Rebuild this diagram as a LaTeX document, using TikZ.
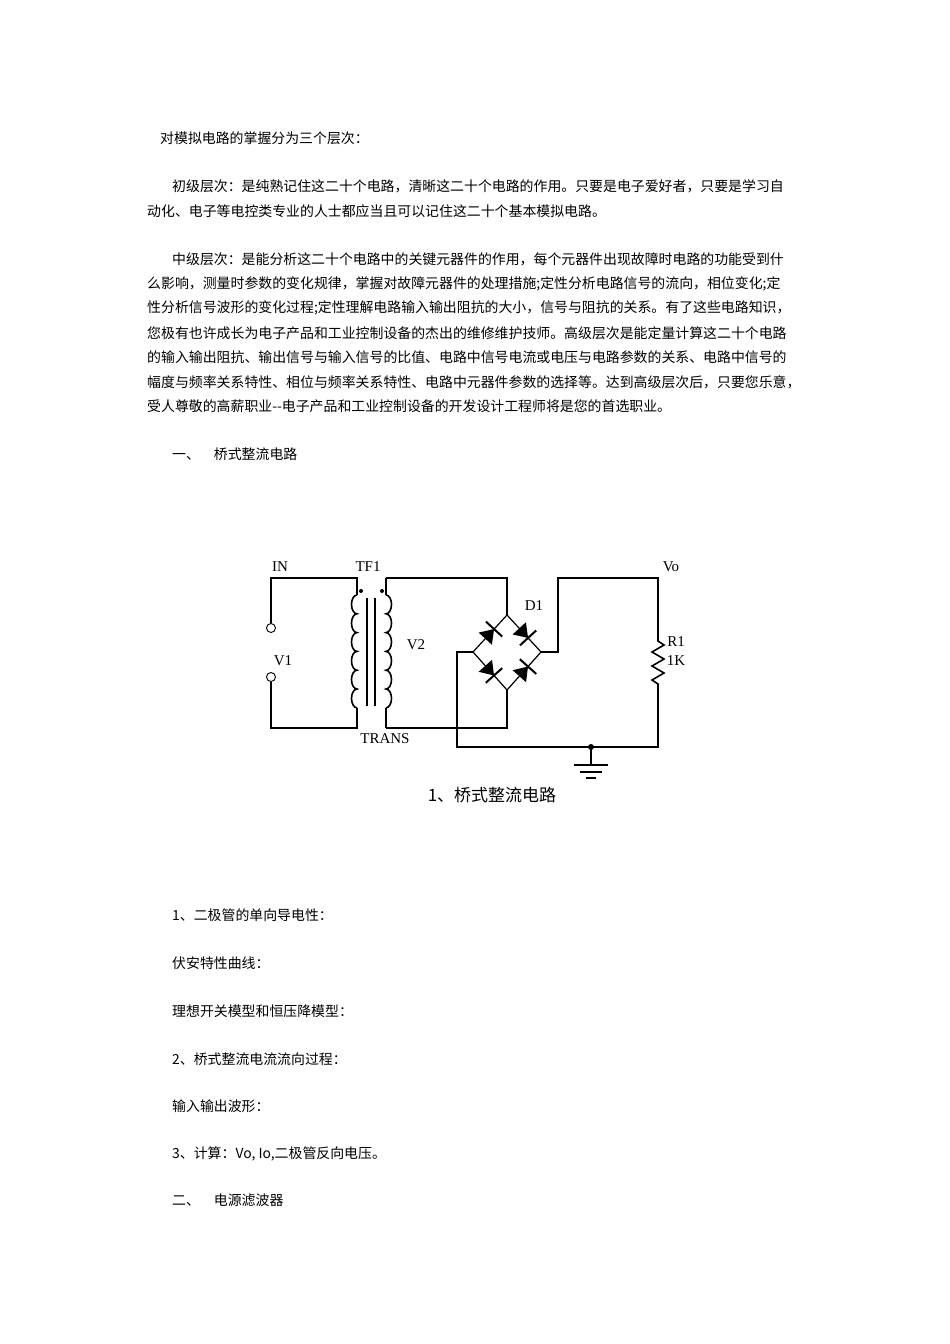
\documentclass[tikz,border=0pt]{standalone}
\usepackage{fontspec}
\setmainfont{Liberation Serif}
\newfontfamily\cjk{Noto Sans CJK SC}
\tikzset{txt/.style={anchor=west,inner sep=0,font=\cjk\fontsize{13.9}{14}\selectfont},
lab/.style={inner sep=0,font=\fontsize{15}{15}\selectfont},
wire/.style={line width=1.6pt},
diode/.style={fill=black}}
\begin{document}
\begin{tikzpicture}[x=1pt,y=-1pt]
\useasboundingbox (0,0) rectangle (950,1344);
\node[txt] (t1) at (160,138) {对模拟电路的掌握分为三个层次：};
\node[txt] (t2) at (172,186) {初级层次：是纯熟记住这二十个电路，清晰这二十个电路的作用。只要是电子爱好者，只要是学习自};
\node[txt] (t3) at (147,211) {动化、电子等电控类专业的人士都应当且可以记住这二十个基本模拟电路。};
\node[txt] (t4) at (172,259) {中级层次：是能分析这二十个电路中的关键元器件的作用，每个元器件出现故障时电路的功能受到什};
\node[txt] (t5) at (147,284) {么影响，测量时参数的变化规律，掌握对故障元器件的处理措施;定性分析电路信号的流向，相位变化;定};
\node[txt] (t6) at (147,308) {性分析信号波形的变化过程;定性理解电路输入输出阻抗的大小，信号与阻抗的关系。有了这些电路知识，};
\node[txt] (t7) at (147,333) {您极有也许成长为电子产品和工业控制设备的杰出的维修维护技师。高级层次是能定量计算这二十个电路};
\node[txt] (t8) at (147,357) {的输入输出阻抗、输出信号与输入信号的比值、电路中信号电流或电压与电路参数的关系、电路中信号的};
\node[txt] (t9) at (147,382) {幅度与频率关系特性、相位与频率关系特性、电路中元器件参数的选择等。达到高级层次后，只要您乐意，};
\node[txt] (t10) at (147,406) {受人尊敬的高薪职业--电子产品和工业控制设备的开发设计工程师将是您的首选职业。};
\node[txt] (t11) at (172,454) {一、\quad 桥式整流电路};
\node[txt] (l1) at (172,915) {1、二极管的单向导电性：};
\node[txt] (l2) at (172,963) {伏安特性曲线：};
\node[txt] (l3) at (172,1011) {理想开关模型和恒压降模型：};
\node[txt] (l4) at (172,1059) {2、桥式整流电流流向过程：};
\node[txt] (l5) at (172,1106) {输入输出波形：};
\node[txt] (l6) at (172,1154) {3、计算：Vo, Io,二极管反向电压。};
\node[txt] (l7) at (172,1200) {二、\quad 电源滤波器};
% circuit
\node[circle,draw,line width=0.9pt,minimum size=9pt,inner sep=0] (c1) at (271,628) {};
\node[circle,draw,line width=0.9pt,minimum size=9pt,inner sep=0] (c2) at (271,677) {};
\coordinate (pt) at (357,578); \coordinate (pb) at (357,728);
\coordinate (st) at (386,578); \coordinate (sb) at (386,728);
\draw[wire] (c1.north) |- (pt) -- (357,595);
\draw[wire] (c2.south) |- (pb) -- (357,708);
\draw[wire] (357,595) \foreach \i in {0,...,5}{ arc[start angle=-90,end angle=-270,x radius=5.5,y radius=9.4] };
\draw[wire] (st) -- (386,595);
\draw[wire] (sb) -- (386,708);
\draw[wire] (386,595) \foreach \i in {0,...,5}{ arc[start angle=-90,end angle=90,x radius=5.5,y radius=9.4] };
\draw[line width=1.8pt] (367,598) -- (367,706) (375,598) -- (375,706);
\fill (361,591) circle (2); \fill (382,591) circle (2);
% bridge
\coordinate (bt) at (507,615); \coordinate (bl) at (473,652);
\coordinate (br) at (541,652); \coordinate (bb) at (507,690);
\draw[wire] (st) -| (bt);
\draw[wire] (sb) -| (bb);
\draw[line width=1.2pt] (bl) -- (bt) -- (br) -- (bb) -- cycle;
\foreach \a/\b in {bl/bt, bt/br, bl/bb, bb/br}{
  \path (\a) -- (\b) coordinate[pos=0.5] (m);
  \begin{scope}[shift={(m)}]
   \pgfmathanglebetweenpoints{\pgfpointanchor{\a}{center}}{\pgfpointanchor{\b}{center}}
   \edef\ang{\pgfmathresult}
   \begin{scope}[rotate=\ang]
    \fill (-7,-9) -- (-7,9) -- (6,0) -- cycle;
    \draw[line width=2pt] (6,-11) -- (6,11);
   \end{scope}
  \end{scope}}
% output
\coordinate (gnd) at (591,747);
\draw[wire] (bl) -- (457,652) |- (gnd) -- (658,747) -- (658,688);
\draw[wire] (658,688) -- (658,684) -- (652,680) -- (664,673) -- (652,666) -- (664,659) -- (652,652) -- (664,645) -- (658,641) -- (658,635);
\draw[wire] (658,635) |- (558,578) |- (br);
\fill (gnd) circle (3);
\draw[wire] (gnd) -- (591,765);
\draw[line width=1.4pt] (574,765) -- (608,765) (580,772) -- (602,772) (586,778) -- (596,778);
\node[lab] (in) at (280,567) {IN};
\node[lab] (tf) at (368,567) {TF1};
\node[lab] (v1) at (283,661) {V1};
\node[lab] (v2) at (416,645) {V2};
\node[lab] (tr) at (385,739) {TRANS};
\node[lab] (d1) at (534,606) {D1};
\node[lab] (vo) at (671,567) {Vo};
\node[lab] (r1) at (676,642) {R1};
\node[lab] (k1) at (676,661) {1K};
\node[inner sep=0,font=\cjk\fontsize{17}{17}\selectfont] (cap) at (492,795) {1、桥式整流电路};
\end{tikzpicture}
\end{document}
